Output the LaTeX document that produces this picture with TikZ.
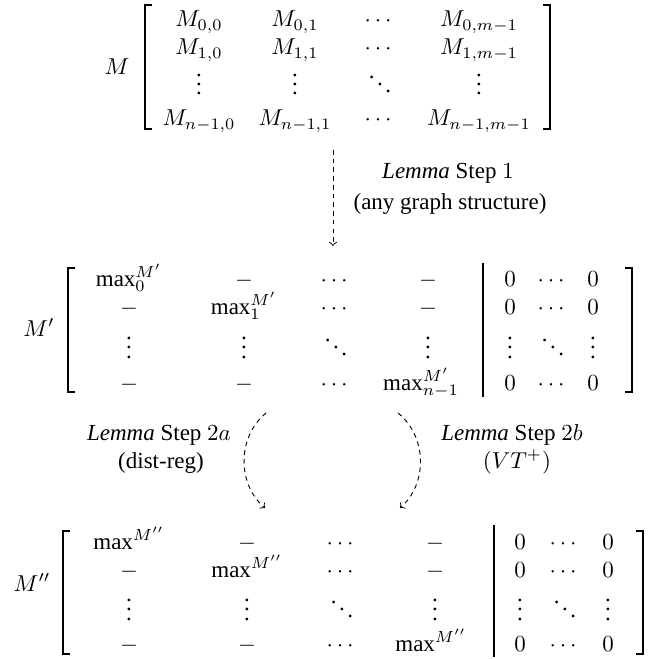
\documentclass[tikz,border=0pt]{standalone}
\usepackage{amsmath,amssymb}
\usepackage{fontspec}
\setmainfont{Liberation Serif}
\usetikzlibrary{calc,arrows}
\tikzset{>=to}
\tikzset{
  entry/.style={anchor=base, inner sep=0pt},
  dotentry/.style={anchor=base, inner sep=0pt, text height=9pt, text depth=0pt},
  brack/.style={line width=0.45pt},
  sepline/.style={line width=0.8pt},
  lemarrow/.style={->, dash pattern=on 2pt off 1.8pt, line width=0.4pt},
  lemtext/.style={anchor=base, inner sep=0pt}
}

\begin{document}
\begin{tikzpicture}[x=0.435pt,y=-0.435pt]
\useasboundingbox (0,0) rectangle (651,659);

% matrix M
\node[entry] (Mlab) at (117,75) {$M$};
\draw[brack] (152,5) -- (145,5) -- (145,129) -- (152,129);
\draw[brack] (543,5) -- (550,5) -- (550,129) -- (543,129);
\foreach \e/\x [count=\c] in {{M_{0,0}}/199,{M_{0,1}}/295,{\cdots}/380,{M_{0,m-1}}/479}
  \node[entry] (t-1-\c) at (\x,27) {$\e$};
\foreach \e/\x [count=\c] in {{M_{1,0}}/199,{M_{1,1}}/295,{\cdots}/380,{M_{1,m-1}}/479}
  \node[entry] (t-2-\c) at (\x,55) {$\e$};
\foreach \e/\x [count=\c] in {{\vdots}/199,{\vdots}/295,{\ddots}/380,{\vdots}/479}
  \node[dotentry] (t-3-\c) at (\x,95) {$\e$};
\foreach \e/\x [count=\c] in {{M_{n-1,0}}/199,{M_{n-1,1}}/295,{\cdots}/380,{M_{n-1,m-1}}/479}
  \node[entry] (t-4-\c) at (\x,126) {$\e$};

% matrix M'
\node[entry] (Mplab) at (39,336) {$M'$};
\draw[brack] (75,268) -- (68,268) -- (68,392) -- (75,392);
\draw[brack] (625,268) -- (632,268) -- (632,392) -- (625,392);
\draw[sepline] (483,263) -- (483,397);
\foreach \e/\x [count=\c] in {{\max_0^{M'}}/129,{-}/244,{\cdots}/336,{-}/428,{0}/510,{\cdots}/553,{0}/593}
  \node[entry] (m-1-\c) at (\x,286) {$\e$};
\foreach \e/\x [count=\c] in {{-}/129,{\max_1^{M'}}/244,{\cdots}/336,{-}/428,{0}/510,{\cdots}/553,{0}/593}
  \node[entry] (m-2-\c) at (\x,314) {$\e$};
\foreach \e/\x [count=\c] in {{\vdots}/129,{\vdots}/244,{\ddots}/336,{\vdots}/428,{\vdots}/510,{\ddots}/553,{\vdots}/593}
  \node[dotentry] (m-3-\c) at (\x,358) {$\e$};
\foreach \e/\x [count=\c] in {{-}/129,{-}/244,{\cdots}/336,{\max_{n-1}^{M'}}/421,{0}/510,{\cdots}/553,{0}/593}
  \node[entry] (m-4-\c) at (\x,390) {$\e$};

% matrix M''
\node[entry] (Mpplab) at (32,591) {$M''$};
\draw[brack] (70,531) -- (63,531) -- (63,654) -- (70,654);
\draw[brack] (636,531) -- (643,531) -- (643,654) -- (636,654);
\draw[sepline] (494,525) -- (494,657);
\foreach \e/\x [count=\c] in {{\max^{M''}}/129,{-}/247,{\cdots}/342,{-}/435,{0}/520,{\cdots}/565,{0}/608}
  \node[entry] (b-1-\c) at (\x,549) {$\e$};
\foreach \e/\x [count=\c] in {{-}/129,{\max^{M''}}/247,{\cdots}/342,{-}/435,{0}/520,{\cdots}/565,{0}/608}
  \node[entry] (b-2-\c) at (\x,577) {$\e$};
\foreach \e/\x [count=\c] in {{\vdots}/129,{\vdots}/247,{\ddots}/342,{\vdots}/435,{\vdots}/520,{\ddots}/565,{\vdots}/608}
  \node[dotentry] (b-3-\c) at (\x,620) {$\e$};
\foreach \e/\x [count=\c] in {{-}/129,{-}/247,{\cdots}/342,{\max^{M''}}/431,{0}/520,{\cdots}/565,{0}/608}
  \node[entry] (b-4-\c) at (\x,651) {$\e$};

% step 1
\coordinate (s1top) at (333,150);
\coordinate (s1bot) at (333,246);
\draw[lemarrow] (s1top) -- (s1bot);
\node[lemtext] (s1lab) at (448,179) {\emph{Lemma} Step $1$};
\node[lemtext] (s1sub) at (450,210) {(any graph structure)};

% step 2a and 2b
\coordinate (s2atop) at (266,413);
\coordinate (s2abot) at (265,508);
\coordinate (s2btop) at (398,413);
\coordinate (s2bbot) at (400,508);
\draw[lemarrow] (s2atop) to[bend right=50] (s2abot);
\draw[lemarrow] (s2btop) to[bend left=50] (s2bbot);
\node[lemtext] (s2alab) at (159,440) {\emph{Lemma} Step $2a$};
\node[lemtext] (s2asub) at (161,468) {(dist-reg)};
\node[lemtext] (s2blab) at (512,440) {\emph{Lemma} Step $2b$};
\node[lemtext] (s2bsub) at (517,468) {$(VT^+)$};
\end{tikzpicture}
\end{document}
